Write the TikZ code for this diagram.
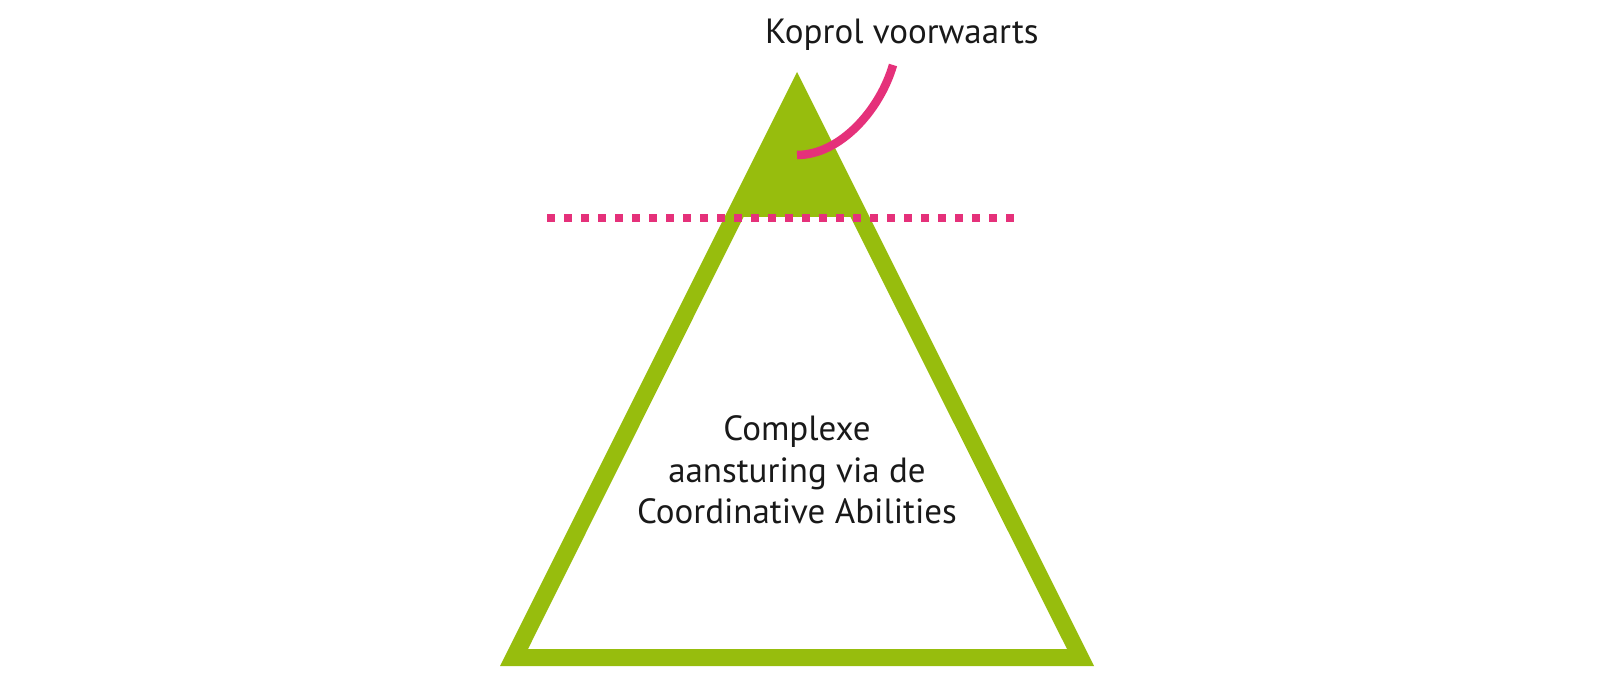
\documentclass[tikz,border=0pt]{standalone}
\usepackage{fontspec}
\setmainfont{PT Sans}
\definecolor{pgreen}{RGB}{151,189,13}
\definecolor{ppink}{RGB}{229,49,122}
\begin{document}
\begin{tikzpicture}[x=1pt,y=-1pt,
  txt/.style={inner sep=0pt,font=\fontsize{35}{41.5}\selectfont,text=black!90},
  pinkline/.style={draw=ppink,line width=8.5pt},
  dotline/.style={draw=ppink,line width=8pt,dash pattern=on 8pt off 9pt}]
\useasboundingbox (0,0) rectangle (1598,676);
% triangle with filled top
\fill[pgreen,even odd rule] (797,72) -- (1094,666) -- (500,666) -- cycle
  (743.5,217) -- (850.5,217) -- (1067,649) -- (528,649) -- cycle;
% cut line
\coordinate (dl) at (547,218);
\coordinate (dr) at (1015,218);
\draw[dotline] (dl) -- (dr);
% label and curve
\node[txt,anchor=base west] (lbl) at (765,44) {Koprol voorwaarts};
\coordinate (cs) at (797,155);
\coordinate (ce) at (893,65);
\draw[pinkline] (cs) .. controls (840,155) and (880,110) .. (ce);
% center text
\node[txt,align=center] (main) at (797,470) {Complexe\\aansturing via de\\Coordinative Abilities};
\end{tikzpicture}
\end{document}
